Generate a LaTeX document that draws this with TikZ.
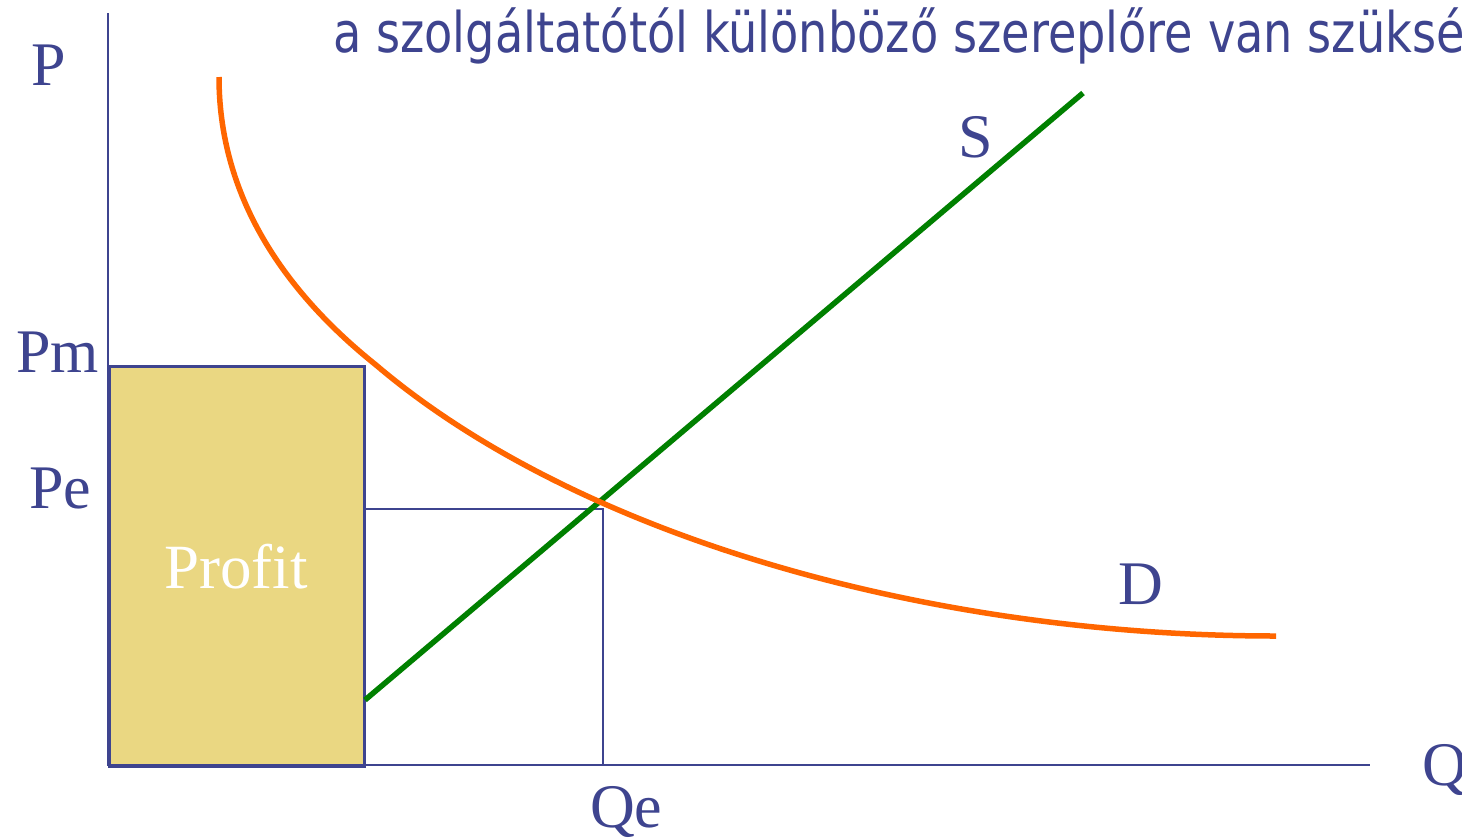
\documentclass[tikz,border=0pt]{standalone}
\usepackage{fontspec}
\setmainfont{Liberation Serif}
\newfontfamily\topfont{DejaVu Sans}
\usepackage{graphicx}
\definecolor{navy}{RGB}{62,68,143}
\definecolor{dorange}{RGB}{255,102,0}
\definecolor{sgreen}{RGB}{0,128,0}
\definecolor{profitfill}{RGB}{234,215,130}
\tikzset{
  lbl/.style={inner sep=0pt, anchor=base west, text=navy, font=\fontsize{62}{70}\selectfont},
  axisline/.style={draw=navy, line width=2.5pt},
  guide/.style={draw=navy, line width=2.2pt},
  curve/.style={line width=5.5pt},
}
\newlength\partw
\begin{document}
\settowidth\partw{\topfont\fontsize{56}{64}\selectfont a szolgáltatótól különböző szereplőre van szüks}
\pgfmathsetmacro\xsfac{1103/\partw}
\begin{tikzpicture}[x=1pt,y=-1pt]
\clip (0,0) rectangle (1462,839);
\fill[white] (0,0) rectangle (1462,839);
% profit rectangle
\node[draw=navy, line width=2.5pt, fill=profitfill, minimum width=255pt, minimum height=400pt, anchor=north west, inner sep=0pt] (rect) at (108,365) {};
\node[inner sep=0pt, anchor=base, text=white, font=\fontsize{63}{70}\selectfont] (profit) at (236,588) {Profit};
% axes
\coordinate (top) at (108,13);
\coordinate (origin) at (108,765);
\coordinate (qend) at (1370,765);
\draw[axisline] (top) -- (origin) -- (qend);
% equilibrium guides
\coordinate (pe) at (363,509);
\coordinate (eq) at (603,509);
\coordinate (qe) at (603,765);
\draw[guide] (pe) -- (eq) -- (qe);
% supply
\coordinate (s0) at (365,700);
\coordinate (s1) at (1083,93);
\draw[sgreen, curve] (s0) -- (s1);
% demand
\coordinate (d0) at (219,77);
\coordinate (d1) at (376,365);
\coordinate (d2) at (1276,636);
\draw[dorange, curve] (d0) .. controls (219,189) and (276,285) .. (d1)
  .. controls (576,535) and (926,636) .. (d2);
% labels
\node[lbl] (P) at (31,85) {P};
\node[lbl] (Pm) at (16,372) {Pm};
\node[lbl] (Pe) at (29,508) {Pe};
\node[lbl] (Qe) at (590,827) {Qe};
\node[lbl] (S) at (958,157) {S};
\node[lbl] (D) at (1118,604) {D};
\node[lbl] (Q) at (1422,785) {Q};
\node[inner sep=0pt, anchor=base west, text=navy] (title) at (333,52) {\scalebox{\xsfac}[1]{\topfont\fontsize{56}{64}\selectfont a szolgáltatótól különböző szereplőre van szükséges}};
\end{tikzpicture}
\end{document}
